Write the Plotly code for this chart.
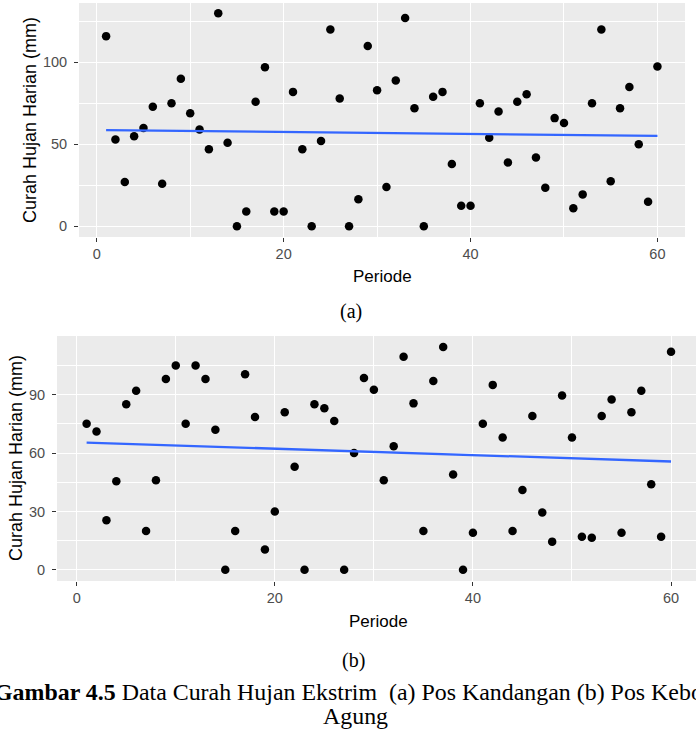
import numpy as np
import plotly.graph_objects as go

periode = [1, 2, 3, 4, 5, 6, 7, 8, 9, 10, 11, 12, 13, 14, 15, 16, 17, 18, 19, 20,
           21, 22, 23, 24, 25, 26, 27, 28, 29, 30, 31, 32, 33, 34, 35, 36, 37, 38, 39, 40,
           41, 42, 43, 44, 45, 46, 47, 48, 49, 50, 51, 52, 53, 54, 55, 56, 57, 58, 59, 60]

curah_kandangan = [116, 53, 27, 55, 60, 73, 26, 75, 90, 69,
                   59, 47, 130, 51, 0, 9, 76, 97, 9, 9,
                   82, 47, 0, 52, 120, 78, 0, 16.5, 110, 83,
                   24, 89, 127, 72, 0, 79, 82, 38, 12.5, 12.5,
                   75, 54, 70, 39, 76, 80.5, 42, 23.5, 66, 63,
                   11, 19.5, 75, 120, 27.5, 72, 85, 50, 15, 97.5]

curah_keboagung = [75, 71, 25.5, 45.5, 85, 92, 20, 46, 98, 105,
                   75, 105, 98, 72, 0, 20, 100.5, 78.5, 10.5, 30,
                   81, 53, 0, 85, 83, 76.5, 0, 60, 98.5, 92.5,
                   46, 63.5, 109.5, 85.5, 20, 97, 114.5, 49, 0, 19,
                   75, 95, 68, 20, 41, 79, 29.5, 14.5, 89.5, 68,
                   17, 16.5, 79, 87.5, 19, 81, 92, 44, 17, 112]

x_ticks = [0, 20, 40, 60]
y_ticks_a = [0, 50, 100]
y_ticks_b = [0, 30, 60, 90]

W, H = 696, 733
SANS = "Liberation Sans, Arial, sans-serif"
SERIF = "Liberation Serif, Times New Roman, serif"


def px(v):
    return v / W


def py(v):
    return 1 - v / H


fig = go.Figure()

for x_name, y_name, yvals in [("x", "y", curah_kandangan), ("x2", "y2", curah_keboagung)]:
    fig.add_trace(go.Scatter(x=periode, y=yvals, mode="markers", xaxis=x_name, yaxis=y_name,
                             marker=dict(color="black", size=8.5), showlegend=False,
                             hoverinfo="x+y"))
    xs = np.array(periode, dtype=float)
    ys = np.array(yvals, dtype=float)
    slope, intercept = np.polyfit(xs, ys, 1)
    xl = [xs.min(), xs.max()]
    yl = [intercept + slope * v for v in xl]
    fig.add_trace(go.Scatter(x=xl, y=yl, mode="lines", xaxis=x_name, yaxis=y_name,
                             line=dict(color="#3366FF", width=2.3), showlegend=False))

axis_common = dict(showgrid=True, gridcolor="white", gridwidth=1.1, zeroline=False,
                   showline=False, ticks="outside", ticklen=4, tickwidth=1.1,
                   automargin=False,
                   tickcolor="#333333", tickfont=dict(family=SANS, size=14.5, color="#4D4D4D"))

fig.update_layout(
    width=W, height=H,
    margin=dict(l=0, r=0, t=0, b=0, autoexpand=False),
    paper_bgcolor="white",
    plot_bgcolor="#EBEBEB",
    xaxis=dict(domain=[px(79), px(685)], range=[-1.9, 62.95], anchor="y",
               tickmode="array", tickvals=x_ticks,
               minor=dict(dtick=10, tick0=0, showgrid=True, gridcolor="white", gridwidth=0.55),
               **axis_common),
    yaxis=dict(domain=[py(237), py(3)], range=[-6.49, 136.2], anchor="x",
               tickmode="array", tickvals=y_ticks_a, ticklabelstandoff=4,
               minor=dict(dtick=25, tick0=0, showgrid=True, gridcolor="white", gridwidth=0.55),
               **axis_common),
    xaxis2=dict(domain=[px(57), 1.0], range=[-1.99, 62.52], anchor="y2",
                tickmode="array", tickvals=x_ticks,
                minor=dict(dtick=10, tick0=0, showgrid=True, gridcolor="white", gridwidth=0.55),
                **axis_common),
    yaxis2=dict(domain=[py(581), py(336)], range=[-5.72, 120.1], anchor="x2",
                tickmode="array", tickvals=y_ticks_b, ticklabelstandoff=4,
                minor=dict(dtick=15, tick0=0, showgrid=True, gridcolor="white", gridwidth=0.55),
                **axis_common),
)

annotations = [
    dict(text="Periode", x=px(382), y=py(277), font=dict(family=SANS, size=17, color="black")),
    dict(text="Curah Hujan Harian (mm)", x=px(30), y=py(120), textangle=-90,
         font=dict(family=SANS, size=18, color="black")),
    dict(text="(a)", x=px(351), y=py(311), font=dict(family=SERIF, size=20, color="black")),
    dict(text="Periode", x=px(378), y=py(621), font=dict(family=SANS, size=17, color="black")),
    dict(text="Curah Hujan Harian (mm)", x=px(16), y=py(458), textangle=-90,
         font=dict(family=SANS, size=18, color="black")),
    dict(text="(b)", x=px(353), y=py(660), font=dict(family=SERIF, size=20, color="black")),
    dict(text="<b>Gambar 4.5</b> Data Curah Hujan Ekstrim\u00a0 (a) Pos Kandangan (b) Pos Kebo",
         x=px(349), y=py(692), font=dict(family=SERIF, size=23.9, color="black")),
    dict(text="Agung", x=px(355), y=py(716), font=dict(family=SERIF, size=23.9, color="black")),
]
for a in annotations:
    a.update(xref="paper", yref="paper", showarrow=False, xanchor="center", yanchor="middle")
fig.update_layout(annotations=annotations)

fig.write_html("out.html", config={"displayModeBar": False},
               post_script="document.body.style.margin='0px';document.body.style.overflow='hidden';")
